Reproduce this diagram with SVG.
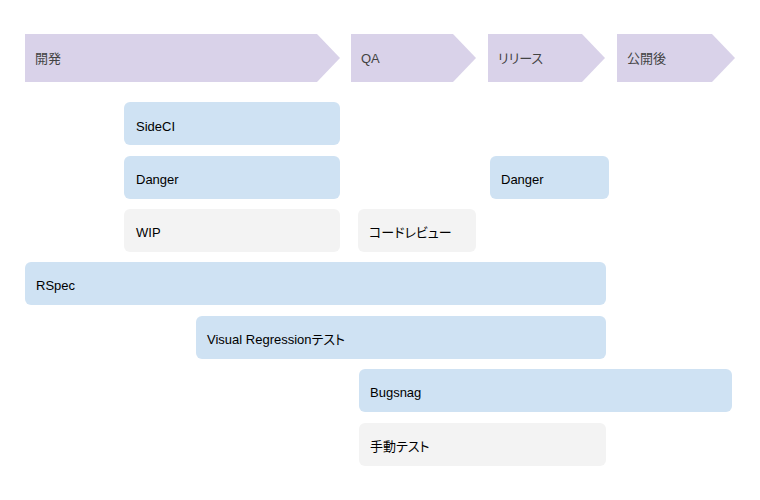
<svg xmlns="http://www.w3.org/2000/svg" width="760" height="500" viewBox="0 0 760 500">
<style>
text{font-family:"Liberation Sans","Noto Sans CJK JP",sans-serif;font-size:13px;font-feature-settings:"palt"}
.ph{fill:#d9d2e9}
.ph-t{fill:#434343}
.blue{fill:#cfe2f3}
.grey{fill:#f3f3f3}
.t{fill:#000}
</style>
<rect width="760" height="500" fill="#fff"/>
<g id="phase-dev"><polygon class="ph" points="25,34 317,34 340,58 317,82 25,82"/><text class="ph-t" x="35" y="63">開発</text></g>
<g id="phase-qa"><polygon class="ph" points="351,34 453,34 476,58 453,82 351,82"/><text class="ph-t" x="361" y="63">QA</text></g>
<g id="phase-release"><polygon class="ph" points="488,34 582,34 605,58 582,82 488,82"/><text class="ph-t" x="498" y="63">リリース</text></g>
<g id="phase-post"><polygon class="ph" points="617,34 712,34 735,58 712,82 617,82"/><text class="ph-t" x="627" y="63">公開後</text></g>
<g id="connectors"></g>
<g id="sideci"><rect class="blue" x="124" y="102" width="216" height="43" rx="6"/><text class="t" x="136" y="131">SideCI</text></g>
<g id="danger-dev"><rect class="blue" x="124" y="156" width="216" height="43" rx="6"/><text class="t" x="136" y="184">Danger</text></g>
<g id="wip"><rect class="grey" x="124" y="209" width="216" height="43" rx="6"/><text class="t" x="136" y="237">WIP</text></g>
<g id="code-review"><rect class="grey" x="358" y="209" width="118" height="43" rx="6"/><text class="t" x="369" y="237">コードレビュー</text></g>
<g id="danger-release"><rect class="blue" x="490" y="156" width="119" height="43" rx="6"/><text class="t" x="501" y="184">Danger</text></g>
<g id="rspec"><rect class="blue" x="25" y="262" width="581" height="43" rx="6"/><text class="t" x="36" y="290">RSpec</text></g>
<g id="visual-regression"><rect class="blue" x="196" y="316" width="410" height="43" rx="6"/><text class="t" x="207" y="344">Visual Regressionテスト</text></g>
<g id="bugsnag"><rect class="blue" x="359" y="369" width="373" height="43" rx="6"/><text class="t" x="370" y="397">Bugsnag</text></g>
<g id="manual-test"><rect class="grey" x="359" y="423" width="247" height="43" rx="6"/><text class="t" x="370" y="451">手動テスト</text></g>
</svg>
